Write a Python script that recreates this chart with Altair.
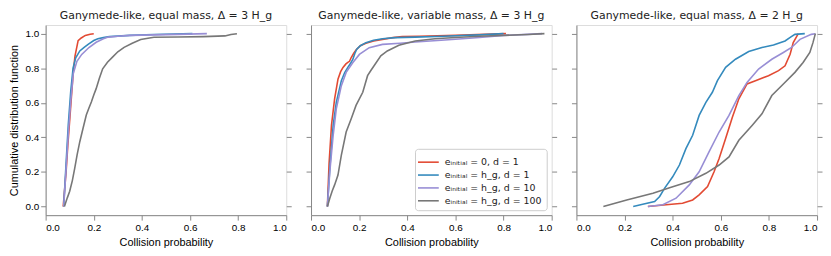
import altair as alt
import pandas as pd

series_names = [
    "eᵢₙᵢₜᵢₐₗ = 0, d = 1",
    "eᵢₙᵢₜᵢₐₗ = h_g, d = 1",
    "eᵢₙᵢₜᵢₐₗ = h_g, d = 10",
    "eᵢₙᵢₜᵢₐₗ = h_g, d = 100",
]
series_colors = ["#E24A33", "#348ABD", "#988ED5", "#777777"]
panel_titles = [
    "Ganymede-like, equal mass, Δ = 3 H_g",
    "Ganymede-like, variable mass, Δ = 3 H_g",
    "Ganymede-like, equal mass, Δ = 2 H_g",
]
tick_values = [0.0, 0.2, 0.4, 0.6, 0.8, 1.0]

# ---- Panel 1: equal mass, Delta = 3 H_g ----
p1_red_x = [0.073, 0.085, 0.092, 0.100, 0.108, 0.115, 0.122, 0.135, 0.148, 0.165, 0.185, 0.200]
p1_red_y = [0.0, 0.2, 0.35, 0.5, 0.65, 0.78, 0.87, 0.96, 0.975, 0.99, 0.997, 1.0]
p1_blue_x = [0.075, 0.085, 0.094, 0.104, 0.114, 0.125, 0.142, 0.160, 0.178, 0.200, 0.217, 0.240, 0.265, 0.35, 0.45, 0.61]
p1_blue_y = [0.0, 0.25, 0.47, 0.66, 0.80, 0.86, 0.90, 0.92, 0.94, 0.96, 0.97, 0.977, 0.983, 0.99, 0.995, 1.0]
p1_purple_x = [0.075, 0.085, 0.095, 0.105, 0.115, 0.13, 0.15, 0.18, 0.21, 0.24, 0.26, 0.30, 0.35, 0.45, 0.55, 0.67]
p1_purple_y = [0.0, 0.22, 0.44, 0.62, 0.77, 0.84, 0.88, 0.92, 0.95, 0.97, 0.98, 0.985, 0.99, 0.993, 0.996, 1.0]
p1_gray_x = [0.078, 0.090, 0.100, 0.111, 0.121, 0.131, 0.142, 0.155, 0.169, 0.180, 0.190, 0.200, 0.210, 0.223,
             0.237, 0.257, 0.278, 0.30, 0.326, 0.36, 0.395, 0.45, 0.55, 0.655, 0.745, 0.77, 0.795]
p1_gray_y = [0.0, 0.05, 0.088, 0.15, 0.222, 0.30, 0.375, 0.45, 0.529, 0.57, 0.605, 0.645, 0.682, 0.74,
             0.797, 0.835, 0.864, 0.895, 0.921, 0.945, 0.966, 0.979, 0.981, 0.983, 0.987, 0.995, 1.0]

# ---- Panel 2: variable mass, Delta = 3 H_g ----
p2_red_x = [0.068, 0.075, 0.085, 0.098, 0.112, 0.123, 0.133, 0.145, 0.153, 0.160, 0.167, 0.177, 0.187, 0.205,
            0.228, 0.26, 0.297, 0.34, 0.379, 0.45, 0.6, 0.81]
p2_red_y = [0.0, 0.25, 0.47, 0.623, 0.737, 0.78, 0.805, 0.825, 0.834, 0.84, 0.862, 0.885, 0.906, 0.93,
            0.944, 0.958, 0.967, 0.977, 0.983, 0.985, 0.99, 1.0]
p2_blue_x = [0.068, 0.078, 0.092, 0.105, 0.126, 0.14, 0.153, 0.165, 0.174, 0.182, 0.19, 0.205, 0.228, 0.26,
             0.297, 0.35, 0.433, 0.55, 0.7, 0.80]
p2_blue_y = [0.0, 0.22, 0.47, 0.603, 0.728, 0.775, 0.805, 0.83, 0.852, 0.885, 0.91, 0.93, 0.948, 0.962,
             0.971, 0.977, 0.98, 0.985, 0.993, 1.0]
p2_purple_x = [0.068, 0.078, 0.092, 0.105, 0.126, 0.146, 0.174, 0.201, 0.242, 0.297, 0.37, 0.433, 0.556, 0.6,
               0.7, 0.8, 0.9, 0.96]
p2_purple_y = [0.0, 0.2, 0.412, 0.565, 0.699, 0.776, 0.833, 0.88, 0.919, 0.938, 0.945, 0.952, 0.963, 0.968,
               0.978, 0.99, 0.996, 1.0]
p2_gray_x = [0.068, 0.078, 0.088, 0.098, 0.112, 0.126, 0.146, 0.167, 0.187, 0.215, 0.235, 0.25, 0.262, 0.29,
             0.317, 0.365, 0.433, 0.515, 0.6, 0.7, 0.8, 0.9, 0.97]
p2_gray_y = [0.0, 0.048, 0.09, 0.125, 0.182, 0.297, 0.431, 0.508, 0.585, 0.661, 0.757, 0.79, 0.814, 0.872,
             0.9, 0.933, 0.958, 0.971, 0.978, 0.985, 0.99, 0.995, 1.0]

# ---- Panel 3: equal mass, Delta = 2 H_g ----
p3_red_x = [0.297, 0.373, 0.441, 0.483, 0.51, 0.545, 0.572, 0.593, 0.62, 0.648, 0.675, 0.709, 0.744, 0.798,
            0.84, 0.867, 0.888, 0.901, 0.922]
p3_red_y = [0.0, 0.01, 0.019, 0.038, 0.067, 0.115, 0.201, 0.278, 0.393, 0.517, 0.623, 0.709, 0.728, 0.757,
            0.786, 0.814, 0.881, 0.948, 1.0]
p3_blue_x = [0.236, 0.28, 0.325, 0.346, 0.366, 0.40, 0.428, 0.455, 0.483, 0.51, 0.538, 0.565, 0.586, 0.62,
             0.661, 0.716, 0.771, 0.819, 0.867, 0.89, 0.908, 0.949]
p3_blue_y = [0.0, 0.015, 0.029, 0.058, 0.105, 0.172, 0.24, 0.335, 0.412, 0.527, 0.603, 0.661, 0.728, 0.805,
             0.852, 0.897, 0.92, 0.935, 0.958, 0.98, 0.996, 1.0]
p3_purple_x = [0.297, 0.359, 0.414, 0.469, 0.51, 0.551, 0.593, 0.634, 0.675, 0.709, 0.757, 0.812, 0.86, 0.894,
               0.929, 0.976, 0.993]
p3_purple_y = [0.0, 0.01, 0.048, 0.125, 0.201, 0.316, 0.431, 0.527, 0.642, 0.718, 0.795, 0.852, 0.891, 0.92,
               0.967, 0.996, 1.0]
p3_gray_x = [0.112, 0.209, 0.318, 0.387, 0.469, 0.538, 0.593, 0.634, 0.675, 0.73, 0.771, 0.812, 0.86, 0.908,
             0.942, 0.97, 0.983, 0.993]
p3_gray_y = [0.0, 0.038, 0.077, 0.109, 0.144, 0.192, 0.24, 0.287, 0.383, 0.469, 0.536, 0.642, 0.709, 0.776,
             0.833, 0.891, 0.948, 1.0]

panels = [
    [(p1_red_x, p1_red_y), (p1_blue_x, p1_blue_y), (p1_purple_x, p1_purple_y), (p1_gray_x, p1_gray_y)],
    [(p2_red_x, p2_red_y), (p2_blue_x, p2_blue_y), (p2_purple_x, p2_purple_y), (p2_gray_x, p2_gray_y)],
    [(p3_red_x, p3_red_y), (p3_blue_x, p3_blue_y), (p3_purple_x, p3_purple_y), (p3_gray_x, p3_gray_y)],
]

rows = []
for pi, plist in enumerate(panels):
    for si, (xs, ys) in enumerate(plist):
        for k, (xv, yv) in enumerate(zip(xs, ys)):
            rows.append({"panel": pi, "series": series_names[si], "s": si, "idx": k, "x": xv, "y": yv})
df = pd.DataFrame(rows)

W, H = 243, 192
xscale = alt.Scale(domain=[0, 1], nice=False, zero=False)
yscale = alt.Scale(domain=[-0.05, 1.05], nice=False, zero=False)

TXT = "#555555"


def make_panel(pi):
    data = df[df.panel == pi]
    first = pi == 0
    if pi == 1:
        legend = alt.Legend(
            title=None, orient="bottom-right", offset=5, symbolType="M-1.4,0H1.4", symbolSize=225,
            symbolStrokeWidth=1.6, labelFontSize=9.5, labelColor="#222222", labelFont="DejaVu Sans",
            strokeColor="#cccccc", fillColor="white", padding=5, cornerRadius=3, rowPadding=0,
            labelOffset=8, labelLimit=300,
        )
    else:
        legend = None
    if first:
        left_axis = alt.Axis(
            orient="left", values=tick_values, format=".1f", labels=True, grid=False,
            title="Cumulative distribution function", titleFontWeight=400, minExtent=0, titlePadding=5.5,
        )
    else:
        left_axis = alt.Axis(orient="left", values=tick_values, labels=False, title=None, minExtent=0, grid=False)
    lines = alt.Chart(data).mark_line(strokeWidth=1.6).encode(
        x=alt.X("x:Q", scale=xscale,
                axis=alt.Axis(values=tick_values, format=".1f", title="Collision probability",
                              titleFontWeight=400, minExtent=0, grid=False, titlePadding=5)),
        y=alt.Y("y:Q", scale=yscale, axis=left_axis),
        color=alt.Color("series:N", scale=alt.Scale(domain=series_names, range=series_colors), legend=legend),
        order=alt.Order("idx:Q"),
    )
    right = alt.Chart(data).mark_line(opacity=0).encode(
        x=alt.X("x:Q", scale=xscale),
        y=alt.Y("y:Q", scale=yscale,
                axis=alt.Axis(orient="right", values=tick_values, labels=False, title=None, domain=False,
                              minExtent=0, grid=False)),
        detail="series:N",
        order=alt.Order("idx:Q"),
    )
    return alt.layer(lines, right).resolve_axis(y="independent").properties(
        width=W, height=H,
        title=alt.TitleParams(panel_titles[pi], fontSize=11, font="DejaVu Sans", fontWeight=400,
                              color="#222222", offset=4),
    )


chart = alt.hconcat(make_panel(0), make_panel(1), make_panel(2), spacing=13, padding=0).resolve_scale(
    color="independent"
).resolve_legend(color="independent").configure_view(
    stroke="#bcbcbc", strokeWidth=1
).configure_axis(
    grid=False, domainColor="#bcbcbc", tickColor="#555555", tickSize=3.5, labelColor=TXT,
    titleColor=TXT, labelFont="DejaVu Sans", titleFont="DejaVu Sans", labelFontSize=9,
    titleFontSize=10.5, titleFontWeight=400, labelPadding=3, titlePadding=3, minExtent=0,
).configure(background="white", padding=0)

chart.save("out.html", embed_options={"renderer": "svg", "actions": False})
